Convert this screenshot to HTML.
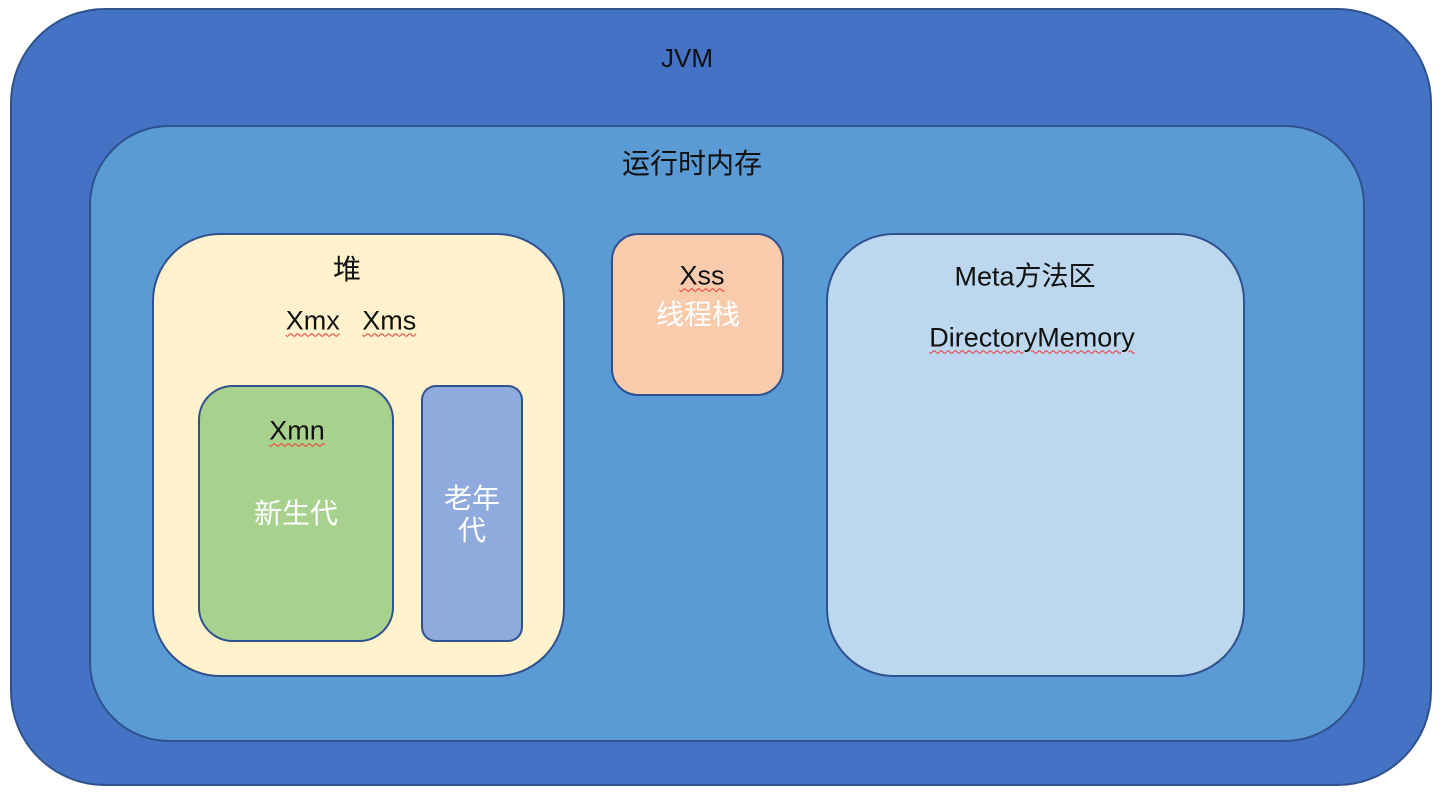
<!DOCTYPE html>
<html><head><meta charset="utf-8"><style>
body{margin:0;width:1440px;height:794px;background:#fff;position:relative;overflow:hidden;font-family:"Liberation Sans","Noto Sans CJK SC",sans-serif;}
.b{position:absolute;box-sizing:border-box;border:2px solid #2F528F;}
.t{position:absolute;white-space:nowrap;transform:translate(-50%,-50%);font-size:27px;color:#111;line-height:1;}
.c{font-size:28px;}
.w{color:#fff;}
.u{text-decoration:underline wavy #e33 1px;text-underline-offset:3px;}
</style></head><body>
<div class="b" style="left:10px;top:8px;width:1422px;height:778px;border-radius:95px;background:#4472C4"></div>
<div class="b" style="left:89px;top:125px;width:1276px;height:617px;border-radius:80px;background:#5B9BD5"></div>
<div class="b" style="left:152px;top:233px;width:413px;height:444px;border-radius:68px;background:#FFF2CC"></div>
<div class="b" style="left:198px;top:385px;width:196px;height:257px;border-radius:35px;background:#A9D18E"></div>
<div class="b" style="left:421px;top:385px;width:102px;height:257px;border-radius:15px;background:#8FAADC"></div>
<div class="b" style="left:611px;top:233px;width:173px;height:163px;border-radius:27px;background:#F8CBAD"></div>
<div class="b" style="left:826px;top:233px;width:419px;height:444px;border-radius:68px;background:#BDD7EE"></div>
<div class="t" style="left:687px;top:58px;font-size:26px">JVM</div>
<div class="t c" style="left:692px;top:164px">运行时内存</div>
<div class="t c" style="left:347px;top:270px">堆</div>
<div class="t" style="left:351px;top:321px"><span class="u">Xmx</span>&nbsp;&nbsp;&nbsp;<span class="u">Xms</span></div>
<div class="t" style="left:297px;top:431px"><span class="u">Xmn</span></div>
<div class="t w c" style="left:296px;top:514px">新生代</div>
<div class="t w c" style="left:472px;top:499px">老年</div>
<div class="t w c" style="left:472px;top:531px">代</div>
<div class="t" style="left:702px;top:276px"><span class="u">Xss</span></div>
<div class="t w c" style="left:698px;top:315px">线程栈</div>
<div class="t" style="left:1025px;top:277px">Meta方法区</div>
<div class="t" style="left:1032px;top:338px"><span class="u">DirectoryMemory</span></div>
</body></html>
